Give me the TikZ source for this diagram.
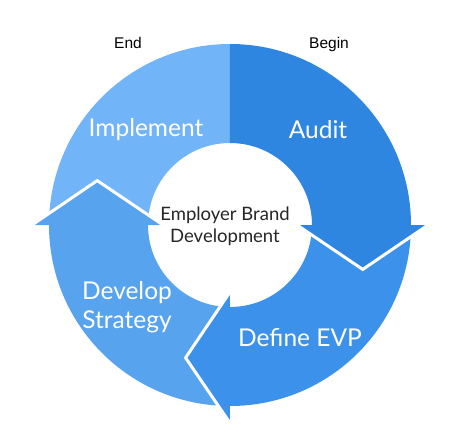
\documentclass[tikz,border=0pt]{standalone}
\usepackage{fontspec}
\setmainfont{Lato}
\newfontfamily\markfont{Liberation Sans}

\definecolor{auditblue}{RGB}{46,134,224}
\definecolor{defineblue}{RGB}{60,146,234}
\definecolor{developblue}{RGB}{88,163,238}
\definecolor{implementblue}{RGB}{114,180,248}

\tikzset{
  seglabel/.style={text=white, font=\fontsize{24.5}{29}\selectfont, align=center, inner sep=0pt},
  centerlabel/.style={text=black!85, font=\fontsize{18.5}{22}\selectfont, align=center, inner sep=0pt},
  marklabel/.style={text=black, font=\markfont\fontsize{15.5}{18}\selectfont, inner sep=0pt},
  headline/.style={white, line width=3pt, line join=miter}
}

\newcommand{\Rout}{181}
\newcommand{\Rin}{82}

\begin{document}
\begin{tikzpicture}[x=1pt, y=1pt]
      \useasboundingbox (-230,-220) rectangle (220,225);

      % Implement (sin punta)
      \fill[implementblue] (180:\Rout) arc[start angle=180, end angle=90, radius=\Rout]
        -- (90:\Rin) arc[start angle=90, end angle=180, radius=\Rin] -- cycle;

      % Segmentos con punta: inicio, fin, color
      \foreach \s/\e/\c in {-90/-180/developblue, 0/-90/defineblue, 90/0/auditblue}{
        \fill[\c] (\s:\Rout) arc[start angle=\s, end angle=\e, radius=\Rout]
          -- (\e:198) -- ({\e-18.5}:140) -- (\e:67)
          -- (\e:\Rin) arc[start angle=\e, end angle=\s, radius=\Rin] -- cycle;
        \draw[headline] (\e:198) -- ({\e-18.5}:140) -- (\e:67);
      }

      % Etiquetas
      \node[seglabel] (implement) at (-84,95) {Implement};
      \node[seglabel] (audit) at (88,95) {Audit};
      \node[seglabel] (define) at (70,-113) {Define EVP};
      \node[seglabel] (develop) at (-103,-82) {Develop\\Strategy};
      \node[centerlabel] (center) at (-5,-1) {Employer Brand\\Development};

      \node[marklabel] (end) at (-102,182) {End};
      \node[marklabel] (begin) at (99,181) {Begin};
\end{tikzpicture}
\end{document}
